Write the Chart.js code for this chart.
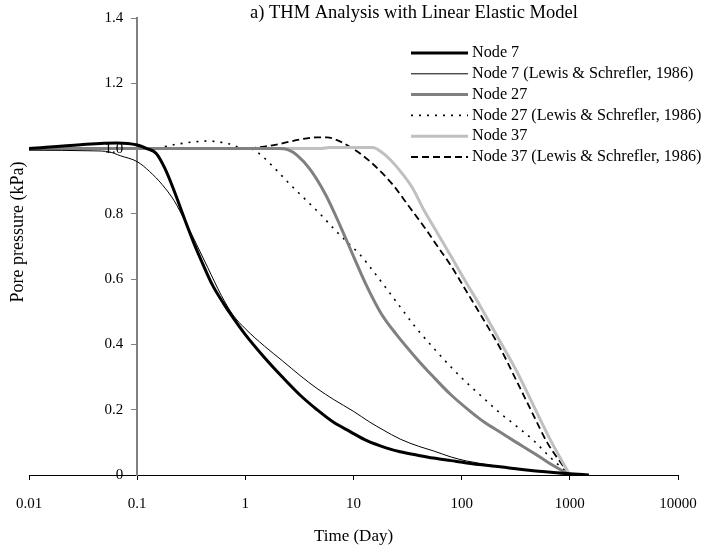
<!DOCTYPE html>
<html>
<head>
<meta charset="utf-8">
<script src="https://cdn.jsdelivr.net/npm/chart.js@4/dist/chart.umd.min.js"></script>
<style>
  html, body { margin: 0; padding: 0; background: #fff; }
</style>
</head>
<body>
<canvas id="chart" width="702" height="550"></canvas>
<script>
// Axis ticks
var timeTicks = [0.01, 0.1, 1, 10, 100, 1000, 10000];
var pressureTicks = [0, 0.2, 0.4, 0.6, 0.8, 1.0, 1.2, 1.4];

// Node 7 - THM model
var node7Time = [0.01, 0.03, 0.065, 0.1, 0.123, 0.15, 0.18, 0.22, 0.27, 0.33, 0.4, 0.5, 0.63, 0.77, 1.0, 1.5, 2.2, 3.2, 4.6, 6.5, 9.3, 13.3, 20, 27, 40, 54.7, 80, 111, 226, 458, 1000, 1500];
var node7Pressure = [1.0, 1.012, 1.017, 1.011, 1.0, 0.985, 0.94, 0.87, 0.79, 0.715, 0.65, 0.58, 0.525, 0.482, 0.43, 0.36, 0.3, 0.245, 0.2, 0.162, 0.133, 0.105, 0.083, 0.071, 0.06, 0.052, 0.044, 0.037, 0.025, 0.013, 0.004, 0.0];

// Node 7 - Lewis & Schrefler
var node7RefTime = [0.01, 0.04, 0.055, 0.07, 0.1, 0.13, 0.17, 0.22, 0.28, 0.35, 0.45, 0.6, 0.77, 1.0, 1.5, 2.2, 3.2, 4.6, 6.5, 10, 14, 18.8, 27, 40, 54.7, 80, 111, 226, 458, 1000];
var node7RefPressure = [0.995, 0.993, 0.99, 0.978, 0.96, 0.93, 0.89, 0.84, 0.775, 0.71, 0.635, 0.55, 0.49, 0.448, 0.395, 0.35, 0.305, 0.265, 0.232, 0.195, 0.163, 0.138, 0.11, 0.088, 0.074, 0.055, 0.043, 0.026, 0.014, 0.0];

// Node 27 - THM model
var node27Time = [0.01, 2.0, 2.5, 3.0, 4.0, 5.5, 7.5, 10, 13, 18, 25, 38, 55, 80, 120, 160, 230, 320, 450, 620, 1000];
var node27Pressure = [1.0, 1.0, 0.996, 0.98, 0.935, 0.86, 0.765, 0.67, 0.585, 0.495, 0.43, 0.358, 0.3, 0.245, 0.195, 0.163, 0.13, 0.1, 0.07, 0.04, 0.0];

// Node 27 - Lewis & Schrefler
var node27RefTime = [0.01, 0.13, 0.25, 0.44, 0.7, 0.95, 1.15, 1.4, 1.8, 2.6, 3.7, 4.9, 7, 9.3, 11.5, 16, 27, 38, 54, 80, 112, 160, 226, 320, 458, 655, 1000];
var node27RefPressure = [1.0, 1.0, 1.015, 1.023, 1.015, 1.0, 0.998, 0.98, 0.945, 0.89, 0.84, 0.8, 0.745, 0.705, 0.675, 0.615, 0.515, 0.45, 0.392, 0.33, 0.282, 0.235, 0.19, 0.15, 0.107, 0.055, 0.0];

// Node 37 - THM model
var node37Time = [0.01, 5, 6, 15, 18, 22, 28, 35, 45, 60, 83, 110, 150, 226, 320, 458, 655, 1000];
var node37Pressure = [1.0, 1.0, 1.003, 1.003, 0.99, 0.965, 0.925, 0.88, 0.81, 0.74, 0.66, 0.59, 0.515, 0.41, 0.32, 0.215, 0.11, 0.0];

// Node 37 - Lewis & Schrefler
var node37RefTime = [0.01, 0.95, 1.5, 2.2, 3.2, 4.5, 5.7, 7.5, 9.5, 11.5, 16, 23, 33, 45, 60, 80, 112, 160, 226, 320, 458, 616, 1000];
var node37RefPressure = [1.0, 1.0, 1.006, 1.016, 1.028, 1.034, 1.034, 1.022, 1.003, 0.985, 0.945, 0.89, 0.82, 0.76, 0.7, 0.64, 0.56, 0.475, 0.39, 0.29, 0.185, 0.1, 0.0];

var serif = '"Liberation Serif", "Times New Roman", serif';

function toPoints(xs, ys) {
  return xs.map(function (x, i) { return { x: x, y: ys[i] }; });
}

function series(label, xs, ys, color, width, dash) {
  return {
    label: label,
    data: toPoints(xs, ys),
    borderColor: color,
    borderWidth: width,
    borderDash: dash || [],
    showLine: true,
    fill: false,
    pointRadius: 0,
    cubicInterpolationMode: 'monotone'
  };
}

// title, axis titles, y tick labels and the legend box
var chartText = {
  id: 'chartText',
  afterDraw: function (chart) {
    var ctx = chart.ctx;
    var area = chart.chartArea;
    var yScale = chart.scales.y;
    var axisX = chart.scales.x.getPixelForValue(0.1);
    ctx.save();
    ctx.fillStyle = '#000';
    ctx.textBaseline = 'middle';

    ctx.font = '18.5px ' + serif;
    ctx.textAlign = 'left';
    ctx.fillText('a) THM Analysis with Linear Elastic Model', 250, 13);

    ctx.font = '17px ' + serif;
    ctx.textAlign = 'center';
    ctx.fillText('Time (Day)', (area.left + area.right) / 2, 537);

    ctx.save();
    ctx.font = '18px ' + serif;
    ctx.translate(18, 232);
    ctx.rotate(-Math.PI / 2);
    ctx.fillText('Pore pressure (kPa)', 0, 0);
    ctx.restore();

    // y tick labels sit left of the axis that crosses at t = 0.1
    ctx.font = '15px ' + serif;
    ctx.textAlign = 'right';
    pressureTicks.forEach(function (v) {
      ctx.fillText(v === 0 ? '0' : v.toFixed(1), axisX - 14, yScale.getPixelForValue(v));
    });

    // legend
    ctx.font = '16.2px ' + serif;
    ctx.textAlign = 'left';
    chart.data.datasets.forEach(function (ds, i) {
      var y = 53 + i * 20.8;
      ctx.beginPath();
      ctx.strokeStyle = ds.borderColor;
      ctx.lineWidth = ds.borderWidth;
      ctx.setLineDash(ds.borderDash);
      ctx.moveTo(411, y);
      ctx.lineTo(468, y);
      ctx.stroke();
      ctx.setLineDash([]);
      ctx.fillText(ds.label, 472, y);
    });
    ctx.restore();
  }
};

new Chart(document.getElementById('chart'), {
  type: 'scatter',
  data: {
    datasets: [
      series('Node 7', node7Time, node7Pressure, '#000000', 3),
      series('Node 7 (Lewis & Schrefler, 1986)', node7RefTime, node7RefPressure, '#000000', 1),
      series('Node 27', node27Time, node27Pressure, '#808080', 3),
      series('Node 27 (Lewis & Schrefler, 1986)', node27RefTime, node27RefPressure, '#000000', 1.6, [2, 6]),
      series('Node 37', node37Time, node37Pressure, '#c0c0c0', 3),
      series('Node 37 (Lewis & Schrefler, 1986)', node37RefTime, node37RefPressure, '#000000', 1.8, [7, 4])
    ]
  },
  options: {
    responsive: false,
    animation: false,
    layout: { padding: { left: 29, right: 24, top: 18, bottom: 0 } },
    plugins: {
      legend: { display: false },
      tooltip: { enabled: false },
      title: { display: false }
    },
    scales: {
      x: {
        type: 'logarithmic',
        position: 'bottom',
        min: 0.01,
        max: 10000,
        afterBuildTicks: function (scale) {
          scale.ticks = timeTicks.map(function (v) { return { value: v }; });
        },
        afterFit: function (scale) {
          scale.height = 75;
          scale.paddingLeft = 0;
          scale.paddingRight = 0;
        },
        grid: { drawOnChartArea: false, drawTicks: true, tickLength: 5, color: '#000' },
        border: { color: '#000', width: 1 },
        ticks: {
          color: '#000',
          font: { family: serif, size: 15 },
          padding: 15,
          maxRotation: 0,
          autoSkip: false,
          callback: function (v) { return String(v); }
        }
      },
      y: {
        type: 'linear',
        position: { x: 0.1 },
        min: 0,
        max: 1.4,
        afterBuildTicks: function (scale) {
          scale.ticks = pressureTicks.map(function (v) { return { value: v }; });
        },
        grid: { drawOnChartArea: false, drawTicks: true, tickLength: 5, color: '#808080' },
        border: { color: '#808080', width: 2 },
        ticks: { display: false }
      }
    }
  },
  plugins: [chartText]
});
</script>
</body>
</html>
